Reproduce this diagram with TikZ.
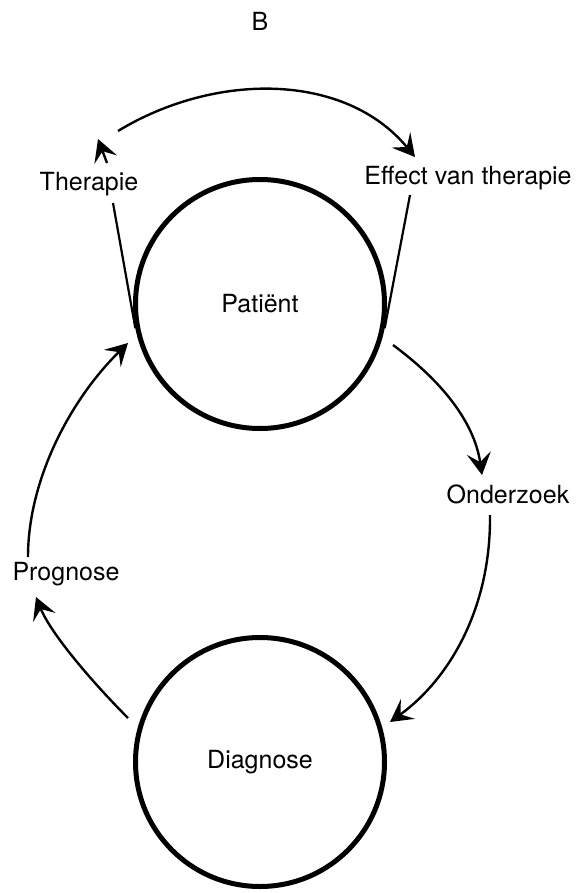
\documentclass[tikz,border=0pt]{standalone}
\usepackage{fontspec}
\setmainfont{TeX Gyre Heros}
\usetikzlibrary{arrows.meta}
\begin{document}
\begin{tikzpicture}[x=1pt,y=-1pt,
  lbl/.style={inner sep=0pt,font=\fontsize{25}{30}\selectfont},
  bigcirc/.style={circle,draw,line width=5pt,minimum size=249pt,inner sep=0pt,font=\fontsize{25}{30}\selectfont},
  conn/.style={line width=2.4pt,-{Stealth[length=22pt,width=24pt,inset=9pt]}},
  tline/.style={line width=2.2pt}]
\useasboundingbox (0,0) rectangle (577,893);
\node[lbl] (B) at (260,21.5) {B};
\node[bigcirc] (pat) at (260,304) {Patiënt};
\node[bigcirc] (diag) at (260,762) {Diagnose};
\node[lbl] (ther) at (89,184) {Therapie};
\node[lbl] (eff) at (468,178) {Effect van therapie};
\node[lbl] (ond) at (508,494) {Onderzoek};
\node[lbl] (prog) at (66,574) {Prognose};
% free ends
\coordinate (tl) at (113,203);
\coordinate (tr) at (410,195);
\coordinate (ta0) at (107,163);
\coordinate (ta1) at (98,139);
\coordinate (arcS) at (118,131);
\coordinate (arcE) at (415,157);
\coordinate (p1) at (393,345);
\coordinate (o1) at (482,475);
\coordinate (o2) at (490,515);
\coordinate (d1) at (390,722);
\coordinate (d2) at (128,718);
\coordinate (g1) at (36,597);
\coordinate (g2) at (28,557);
\coordinate (p2) at (128,343);
% tangent lines
\draw[tline] (tl) -- (pat.191);
\draw[tline] (tr) -- (pat.-11);
% therapy arrows
\draw[conn] (ta0) -- (ta1);
\draw[conn] (arcS) .. controls (215,72) and (345,72) .. (arcE);
% cycle
\draw[conn] (p1) .. controls (439,379) and (474,420) .. (o1);
\draw[conn] (o2) .. controls (491,610) and (448,680) .. (d1);
\draw[conn] (d2) .. controls (93,683) and (51,634) .. (g1);
\draw[conn] (g2) .. controls (28,480) and (70,400) .. (p2);
\end{tikzpicture}
\end{document}
